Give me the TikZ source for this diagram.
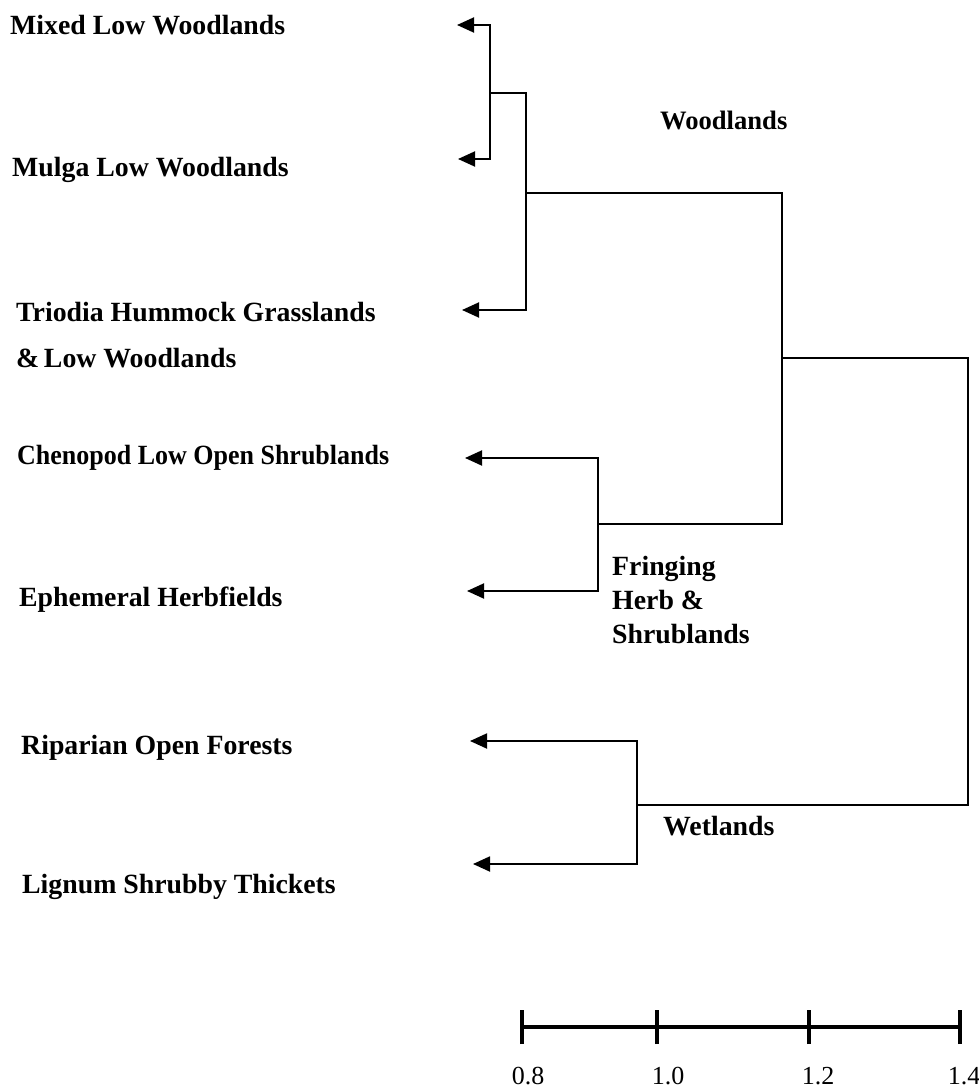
\documentclass[tikz,border=0pt]{standalone}
\usepackage{fontspec}
\usepackage{graphicx}
\setmainfont{Liberation Serif}
\usetikzlibrary{arrows.meta}
\begin{document}
\begin{tikzpicture}[x=1pt,y=-1pt,
  lbl/.style={anchor=west,inner sep=0pt,font=\fontsize{27.8}{34}\selectfont\bfseries,align=left},
  grp/.style={anchor=west,inner sep=0pt,font=\fontsize{27.8}{34}\selectfont\bfseries,align=left},
  num/.style={inner sep=0pt,font=\fontsize{26}{30}\selectfont},
  tree/.style={line width=1.9pt,line join=miter},
  tip/.tip={Triangle[length=17pt,width=15pt]},
  both/.style={tree,tip-tip},
  one/.style={tree,-tip},
  bar/.style={line width=3.5pt}]
\useasboundingbox (0,0) rectangle (979,1089);
% leaf labels
\node[lbl] (lA) at (10,25) {Mixed Low Woodlands};
\node[lbl] (lB) at (12,170) {Mulga Low Woodlands};
\node[lbl] (lC) at (16,335) {Triodia Hummock Grasslands\\[12pt]\&\,Low Woodlands};
\node[lbl] (lD) at (17,458) {\scalebox{0.935}[1]{Chenopod Low Open Shrublands}};
\node[lbl] (lE) at (19,600) {Ephemeral Herbfields};
\node[lbl] (lF) at (21,748) {Riparian Open Forests};
\node[lbl] (lG) at (22,887) {Lignum Shrubby Thickets};
% group labels
\node[grp,font=\fontsize{26.6}{34}\selectfont\bfseries] (gW) at (660,120) {Woodlands};
\node[grp] (gF) at (612,600) {Fringing\\Herb \&\\Shrublands};
\node[grp] (gX) at (663,826) {Wetlands};
% arrow tips
\coordinate (tA) at (457,25);
\coordinate (tB) at (458,159);
\coordinate (tC) at (462,310);
\coordinate (tD) at (465,458);
\coordinate (tE) at (467,591);
\coordinate (tF) at (470,741);
\coordinate (tG) at (473,864);
% junctions
\coordinate (j1) at (490,93);
\coordinate (j2) at (526,193);
\coordinate (j3) at (598,524);
\coordinate (j4) at (782,358);
\coordinate (j5) at (637,805);
\coordinate (j6) at (968,580);
\draw[both] (tA) -| (j1) |- (tB);
\draw[one] (j1) -| (j2) |- (tC);
\draw[both] (tD) -| (j3) |- (tE);
\draw[tree] (j2) -| (j4) |- (j3);
\draw[both] (tF) -| (j5) |- (tG);
\draw[tree] (j4) -| (j6) |- (j5);
% scale bar
\coordinate (s0) at (522,1027);
\coordinate (s1) at (657,1027);
\coordinate (s2) at (809,1027);
\coordinate (s3) at (960,1027);
\draw[bar] (s0) -- (s3);
\foreach \s in {s0,s1,s2,s3} \draw[bar] ([yshift=-17pt]\s) -- ([yshift=17pt]\s);
\node[num] (n0) at (528,1076) {0.8};
\node[num] (n1) at (668,1076) {1.0};
\node[num] (n2) at (818,1076) {1.2};
\node[num] (n3) at (964,1076) {1.4};
\end{tikzpicture}
\end{document}
